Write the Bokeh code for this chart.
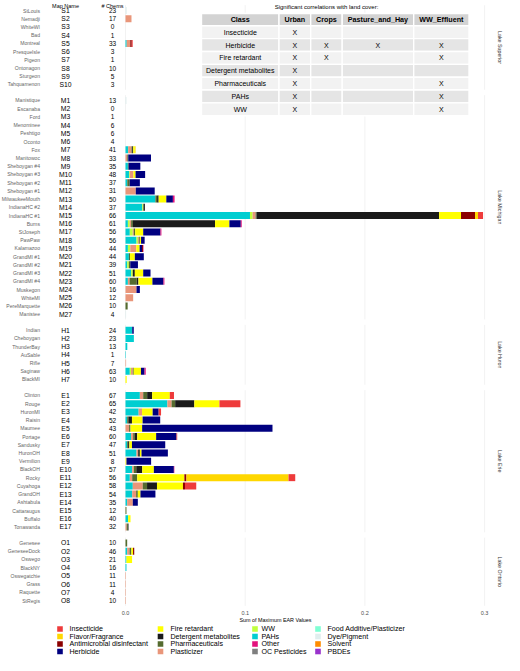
import math
from bokeh.plotting import figure
from bokeh.models import ColumnDataSource, Range1d
from bokeh.core.properties import value
from bokeh.embed import file_html
from bokeh.resources import INLINE

# ---------------- data ----------------
LAKES = ["Lake Superior", "Lake Michigan", "Lake Huron", "Lake Erie", "Lake Ontario"]

SUPERIOR_SITES = ["StLouis", "Nemadji", "WhiteWI", "Bad", "Montreal", "PresqueIsle", "Pigeon",
                  "Ontonagon", "Sturgeon", "Tahquamenon"]
SUPERIOR_MAP = ["S1", "S2", "S3", "S4", "S5", "S6", "S7", "S8", "S9", "S10"]
SUPERIOR_CHEMS = [23, 17, 0, 1, 33, 3, 1, 10, 5, 3]

MICHIGAN_SITES = ["Manistique", "Escanaba", "Ford", "Menominee", "Peshtigo", "Oconto", "Fox",
                  "Manitowoc", "Sheboygan #4", "Sheboygan #3", "Sheboygan #2", "Sheboygan #1",
                  "MilwaukeeMouth", "IndianaHC #2", "IndianaHC #1", "Burns", "StJoseph", "PawPaw",
                  "Kalamazoo", "GrandMI #1", "GrandMI #2", "GrandMI #3", "GrandMI #4", "Muskegon",
                  "WhiteMI", "PereMarquette", "Manistee"]
MICHIGAN_MAP = ["M%d" % i for i in range(1, 28)]
MICHIGAN_CHEMS = [13, 0, 1, 6, 6, 4, 41, 33, 35, 48, 37, 31, 50, 37, 66, 61, 56, 56, 44, 44, 39,
                  51, 60, 16, 12, 10, 4]

HURON_SITES = ["Indian", "Cheboygan", "ThunderBay", "AuSable", "Rifle", "Saginaw", "BlackMI"]
HURON_MAP = ["H1", "H2", "H3", "H4", "H5", "H6", "H7"]
HURON_CHEMS = [24, 23, 13, 1, 7, 63, 10]

ERIE_SITES = ["Clinton", "Rouge", "HuronMI", "Raisin", "Maumee", "Portage", "Sandusky", "HuronOH",
              "Vermilion", "BlackOH", "Rocky", "Cuyahoga", "GrandOH", "Ashtabula", "Cattaraugus",
              "Buffalo", "Tonawanda"]
ERIE_MAP = ["E%d" % i for i in range(1, 18)]
ERIE_CHEMS = [67, 65, 42, 52, 43, 60, 47, 51, 8, 57, 56, 58, 54, 35, 12, 40, 32]

ONTARIO_SITES = ["Genesee", "GeneseeDock", "Oswego", "BlackNY", "Oswegatchie", "Grass",
                 "Raquette", "StRegis"]
ONTARIO_MAP = ["O1", "O2", "O3", "O4", "O5", "O6", "O7", "O8"]
ONTARIO_CHEMS = [10, 46, 21, 16, 11, 11, 4, 10]

# Sum of maximum EAR values per chemical class (sparse: map name -> value)
PAHS = {"S5": 0.001, "M7": 0.0022, "M9": 0.002, "M10": 0.003, "M11": 0.0015, "M13": 0.025,
        "M14": 0.014, "M15": 0.104, "M16": 0.002, "M17": 0.0036, "M18": 0.0092, "M19": 0.002,
        "M20": 0.0028, "M21": 0.0014, "M22": 0.0047, "M23": 0.002,
        "H1": 0.0056, "H2": 0.007, "H3": 0.0015, "H4": 0.0004, "H6": 0.0036,
        "E1": 0.012, "E2": 0.035, "E3": 0.011, "E4": 0.0014, "E6": 0.0047, "E7": 0.0014,
        "E8": 0.0092, "E10": 0.0056, "E11": 0.0036, "E12": 0.0061, "E13": 0.0056, "E14": 0.0014,
        "E16": 0.0022, "O2": 0.0014, "O3": 0.0008, "O4": 0.0008}
WW = {"M10": 0.0006, "M14": 0.001, "M15": 0.0022, "M16": 0.0015, "M17": 0.0025, "M18": 0.0012,
      "M19": 0.002, "M21": 0.0014, "M22": 0.0014, "H6": 0.001}
DYE = {"S1": 0.001, "M1": 0.0008, "M27": 0.0005}
PLASTICIZER = {"S2": 0.005, "S5": 0.003, "M7": 0.0028, "M8": 0.0015, "M10": 0.003, "M12": 0.0086,
               "M15": 0.0025, "M16": 0.0012, "M17": 0.0008, "M18": 0.0008, "M19": 0.005,
               "M23": 0.0014, "M24": 0.0092, "M25": 0.0064, "H5": 0.0005, "H6": 0.0015,
               "E1": 0.0028, "E2": 0.0035, "E3": 0.0028, "E5": 0.003, "E6": 0.0017, "E8": 0.0014,
               "E10": 0.0014, "E11": 0.002, "E12": 0.0083, "E13": 0.0033, "E14": 0.0047,
               "E17": 0.001, "O2": 0.002, "O5": 0.0004, "O6": 0.0004, "O7": 0.0004, "O8": 0.0004}
PHARMA = {"M7": 0.0006, "M8": 0.0008, "M9": 0.0006, "M11": 0.002, "M13": 0.0014, "M15": 0.0008,
          "M16": 0.0015, "M17": 0.0012, "M18": 0.0008, "M20": 0.001, "M21": 0.0012, "M23": 0.006,
          "M26": 0.0018, "H6": 0.0008, "E1": 0.0033, "E2": 0.003, "E4": 0.001, "E5": 0.0012,
          "E6": 0.0014, "E7": 0.0008, "E10": 0.002, "E11": 0.0042, "E12": 0.0036, "E13": 0.0014,
          "E15": 0.0008, "E17": 0.001, "O1": 0.0014, "O2": 0.0015}
DETERGENT = {"M7": 0.0008, "M13": 0.0013, "M14": 0.0012, "M15": 0.1525, "M16": 0.0686,
             "M22": 0.0017, "M23": 0.0014, "E1": 0.0042, "E2": 0.016, "E4": 0.003, "E6": 0.002,
             "E7": 0.001, "E8": 0.0014, "E10": 0.005, "E12": 0.0083, "E17": 0.0005}
FIRE = {"M7": 0.0014, "M10": 0.0018, "M13": 0.0064, "M15": 0.0183, "M16": 0.012, "M17": 0.0067,
        "M18": 0.001, "M19": 0.0028, "M20": 0.004, "M22": 0.007, "M23": 0.0117, "H6": 0.006,
        "H7": 0.001, "E1": 0.0147, "E2": 0.021, "E3": 0.0089, "E4": 0.0089, "E5": 0.0097,
        "E6": 0.0158, "E7": 0.0022, "E8": 0.0014, "E9": 0.0008, "E10": 0.0097, "E11": 0.0394,
        "E12": 0.0217, "E13": 0.0022, "E16": 0.002, "O2": 0.0014, "O3": 0.0047}
HERBICIDE = {"M8": 0.019, "M9": 0.0098, "M10": 0.008, "M11": 0.0085, "M12": 0.0158, "M13": 0.0055,
             "M16": 0.0095, "M17": 0.0144, "M18": 0.003, "M19": 0.002, "M20": 0.0075,
             "M21": 0.0064, "M22": 0.0061, "M23": 0.0092, "M24": 0.0028, "H1": 0.0013,
             "H6": 0.003, "E3": 0.005, "E4": 0.0147, "E5": 0.1089, "E6": 0.017, "E7": 0.0278,
             "E8": 0.022, "E9": 0.0206, "E10": 0.0167, "E13": 0.0125, "E14": 0.0042}
ANTIMICROBIAL = {"S5": 0.0012, "M15": 0.0117, "M19": 0.0008, "E11": 0.0017, "E12": 0.0017,
                 "O2": 0.001}
FLAVOR = {"M7": 0.0006, "M15": 0.0025, "E11": 0.0853}
INSECTICIDE = {"S5": 0.0008, "M15": 0.0042, "E1": 0.0035, "E2": 0.0175, "E3": 0.002,
               "E6": 0.0006, "E11": 0.0056, "E12": 0.0094}
OTHER = {"M13": 0.0014, "M16": 0.0008, "M17": 0.0008, "M19": 0.0004, "M23": 0.0008, "H6": 0.001,
         "E10": 0.0004}

X_TICKS = [0.0, 0.1, 0.2, 0.3]
X_TICK_LABELS = ["0.0", "0.1", "0.2", "0.3"]

LEGEND_NAMES = ["Insecticide", "Flavor/Fragrance", "Antimicrobial disinfectant", "Herbicide",
                "Fire retardant", "Detergent metabolites", "Pharmaceuticals", "Plasticizer",
                "WW", "PAHs", "Other", "OC Pesticides",
                "Food Additive/Plasticizer", "Dye/Pigment", "Solvent", "PBDEs"]
LEGEND_COLORS = ["#EE3B3B", "#FFD700", "#8B0000", "#000080",
                 "#FFFF00", "#1A1A1A", "#556B2F", "#E9967A",
                 "#C0FF3E", "#00CED1", "#E3127C", "#7F7F7F",
                 "#7FFFD4", "#E0EEEE", "#FF8C00", "#9932CC"]

TABLE_CLASSES = ["Insecticide", "Herbicide", "Fire retardant", "Detergent metabolites",
                 "Pharmaceuticals", "PAHs", "WW"]
TABLE_COLS = ["Class", "Urban", "Crops", "Pasture_and_Hay", "WW_Effluent"]
URBAN = ["X", "X", "X", "X", "X", "X", "X"]
CROPS = ["", "X", "X", "", "", "", ""]
PASTURE = ["", "X", "", "", "", "", ""]
WW_EFFLUENT = ["", "X", "X", "", "X", "X", "X"]

# ---------------- build ----------------
FONT = value("Liberation Sans")
color_of = dict(zip(LEGEND_NAMES, LEGEND_COLORS))
STACK = [("PAHs", PAHS), ("WW", WW), ("Dye/Pigment", DYE), ("Plasticizer", PLASTICIZER),
         ("Pharmaceuticals", PHARMA), ("Detergent metabolites", DETERGENT),
         ("Fire retardant", FIRE), ("Herbicide", HERBICIDE),
         ("Antimicrobial disinfectant", ANTIMICROBIAL), ("Flavor/Fragrance", FLAVOR),
         ("Insecticide", INSECTICIDE), ("Other", OTHER)]

groups = [(SUPERIOR_SITES, SUPERIOR_MAP, SUPERIOR_CHEMS), (MICHIGAN_SITES, MICHIGAN_MAP, MICHIGAN_CHEMS),
          (HURON_SITES, HURON_MAP, HURON_CHEMS), (ERIE_SITES, ERIE_MAP, ERIE_CHEMS),
          (ONTARIO_SITES, ONTARIO_MAP, ONTARIO_CHEMS)]

ROW = 8.22
GAP = 7.76
sites, maps, chems, ys, panels = [], [], [], [], []
k = 0
for gi, (s, m, c) in enumerate(groups):
    ylist = []
    for i in range(len(s)):
        y = 10 + ROW * k + GAP * gi
        sites.append(s[i]); maps.append(m[i]); chems.append(str(c[i])); ys.append(y)
        ylist.append(y)
        k += 1
    panels.append((ylist[0] - 5.3, ylist[-1] + 5.3))

data = {"y": ys}
keys = []
for j, (name, d) in enumerate(STACK):
    key = "c%d" % j
    keys.append(key)
    data[key] = [d.get(mm, 0.0) for mm in maps]
src = ColumnDataSource(data)

W, H = 504, 655
X0 = (0 - 125) / 1197.0
X1 = (W - 125) / 1197.0
p = figure(width=W, height=H, x_range=Range1d(X0, X1), y_range=Range1d(H, 0),
           x_axis_type=None, y_axis_type=None, output_backend="svg", toolbar_location=None,
           min_border=0, outline_line_color=None)
p.extra_x_ranges = {"px": Range1d(0, W)}
p.background_fill_color = "white"
p.border_fill_color = "white"

# gridlines per panel
gx, gy0, gy1 = [], [], []
for (t, b) in panels:
    for tv in X_TICKS:
        gx.append(tv); gy0.append(t); gy1.append(b)
p.segment(x0=gx, y0=gy0, x1=gx, y1=gy1, line_color="#EDEDED", line_width=0.7)

# stacked bars
p.hbar_stack(keys, y="y", height=7, source=src,
             color=[color_of[n] for n, _ in STACK], line_color=None)

# left text columns
p.text(x=[39.5] * len(sites), y=ys, text=sites, x_range_name="px", text_align="right",
       text_baseline="middle", text_font=FONT, text_font_size="5.1px", text_color="#666666")
p.text(x=[65] * len(maps), y=ys, text=maps, x_range_name="px", text_align="center",
       text_baseline="middle", text_font=FONT, text_font_size="6.8px", text_color="#000000")
p.text(x=[112] * len(chems), y=ys, text=chems, x_range_name="px", text_align="center",
       text_baseline="middle", text_font=FONT, text_font_size="6.5px", text_color="#000000")
p.text(x=[65, 112], y=[5.4, 5.4], text=["Map Name", "# Chems"], x_range_name="px",
       text_align="center", text_baseline="alphabetic", text_font=FONT, text_font_size="5.5px",
       text_color="#000000")

# strip labels (right)
p.text(x=[499] * 5, y=[(t + b) / 2 for t, b in panels], text=LAKES, x_range_name="px",
       angle=-math.pi / 2, text_align="center", text_baseline="middle", text_font=FONT,
       text_font_size="5.3px", text_color="#333333")

# x axis labels
p.text(x=X_TICKS, y=[612] * 4, text=X_TICK_LABELS, text_align="center", text_baseline="middle",
       text_font=FONT, text_font_size="5.5px", text_color="#4D4D4D")
p.text(x=[275], y=[619.5], text=["Sum of Maximum EAR Values"], x_range_name="px",
       text_align="center", text_baseline="middle", text_font=FONT, text_font_size="5.4px",
       text_color="#000000")

# table
col_edges = [201, 278.5, 310.2, 341.7, 413.2, 468.5]
row_edges = [13, 25.3] + [25.3 + 12.85 * (i + 1) for i in range(7)]
ql, qr, qt, qb, qc = [], [], [], [], []
for r in range(8):
    for c in range(5):
        ql.append(col_edges[c]); qr.append(col_edges[c + 1])
        qt.append(row_edges[r]); qb.append(row_edges[r + 1])
        qc.append("#D3D3D3" if r == 0 else ("#F2F2F2" if r % 2 == 1 else "#E5E5E5"))
p.quad(left=ql, right=qr, top=qt, bottom=qb, fill_color=qc, line_color="white",
       line_width=1.4, x_range_name="px")
cx = [(col_edges[c] + col_edges[c + 1]) / 2 for c in range(5)]
p.text(x=cx, y=[(row_edges[0] + row_edges[1]) / 2] * 5, text=TABLE_COLS, x_range_name="px",
       text_align="center", text_baseline="middle", text_font=FONT, text_font_size="7.2px",
       text_font_style="bold", text_color="#000000")
bx, by, bt = [], [], []
for r in range(7):
    yc = (row_edges[r + 1] + row_edges[r + 2]) / 2
    for c, col in enumerate([TABLE_CLASSES, URBAN, CROPS, PASTURE, WW_EFFLUENT]):
        if col[r]:
            bx.append(cx[c]); by.append(yc); bt.append(col[r])
p.text(x=bx, y=by, text=bt, x_range_name="px", text_align="center", text_baseline="middle",
       text_font=FONT, text_font_size="7px", text_color="#000000")
p.text(x=[326], y=[6.5], text=["Significant correlations with land cover:"], x_range_name="px",
       text_align="center", text_baseline="middle", text_font=FONT, text_font_size="6px",
       text_color="#000000")

# legend
sq_x = [59.5, 160, 254.5, 317.5]
tx_x = [69, 170, 261, 327]
leg_y = [628.5, 636, 643.5, 651]
lx, ly, lc, ltx, lty = [], [], [], [], []
for i, name in enumerate(LEGEND_NAMES):
    col, row = i // 4, i % 4
    lx.append(sq_x[col]); ly.append(leg_y[row]); lc.append(LEGEND_COLORS[i])
    ltx.append(tx_x[col]); lty.append(leg_y[row])
p.rect(x=lx, y=ly, width=5.6, height=5.6, fill_color=lc, line_color=None, x_range_name="px")
p.text(x=ltx, y=lty, text=LEGEND_NAMES, x_range_name="px", text_align="left",
       text_baseline="middle", text_font=FONT, text_font_size="7.1px", text_color="#000000")

open("out.html", "w").write(file_html(p, INLINE))
